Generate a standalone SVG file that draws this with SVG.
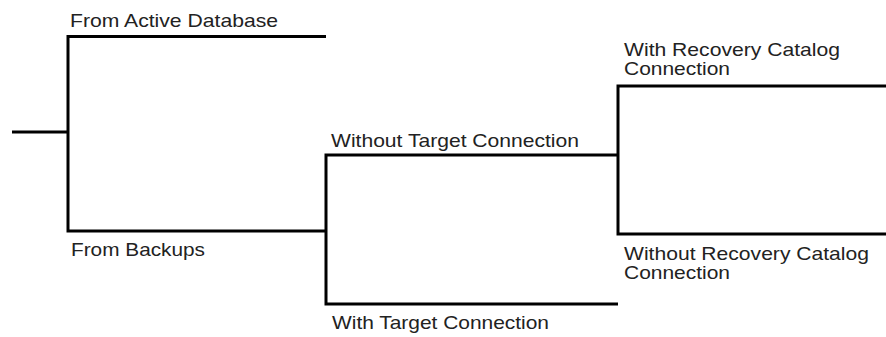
<svg xmlns="http://www.w3.org/2000/svg" width="886" height="337" viewBox="0 0 886 337">
  <style>
    .conn { fill: none; stroke: #000; stroke-width: 3; stroke-linecap: butt; stroke-linejoin: miter; }
    .lbl { font-family: "Liberation Sans", Arial, sans-serif; font-size: 18.5px; fill: #222; }
  </style>
  <rect width="886" height="337" fill="#fff"/>
  <g id="connectors">
    <path class="conn" d="M12,132 H68"/>
    <path class="conn" d="M326,36.5 H68 V231 H326"/>
    <path class="conn" d="M618,155 H326 V304 H618"/>
    <path class="conn" d="M886,86 H618 V234 H886"/>
  </g>
  <g id="from-active-database">
    <text class="lbl" x="70" y="27" textLength="208" lengthAdjust="spacingAndGlyphs">From Active Database</text>
  </g>
  <g id="from-backups">
    <text class="lbl" x="71" y="256" textLength="134" lengthAdjust="spacingAndGlyphs">From Backups</text>
  </g>
  <g id="without-target-connection">
    <text class="lbl" x="331" y="147" textLength="248" lengthAdjust="spacingAndGlyphs">Without Target Connection</text>
  </g>
  <g id="with-target-connection">
    <text class="lbl" x="332" y="329" textLength="217" lengthAdjust="spacingAndGlyphs">With Target Connection</text>
  </g>
  <g id="with-recovery-catalog-connection">
    <text class="lbl" x="624" y="56" textLength="216" lengthAdjust="spacingAndGlyphs">With Recovery Catalog</text>
    <text class="lbl" x="624" y="75" textLength="106" lengthAdjust="spacingAndGlyphs">Connection</text>
  </g>
  <g id="without-recovery-catalog-connection">
    <text class="lbl" x="624" y="260" textLength="245" lengthAdjust="spacingAndGlyphs">Without Recovery Catalog</text>
    <text class="lbl" x="624" y="279" textLength="106" lengthAdjust="spacingAndGlyphs">Connection</text>
  </g>
</svg>
